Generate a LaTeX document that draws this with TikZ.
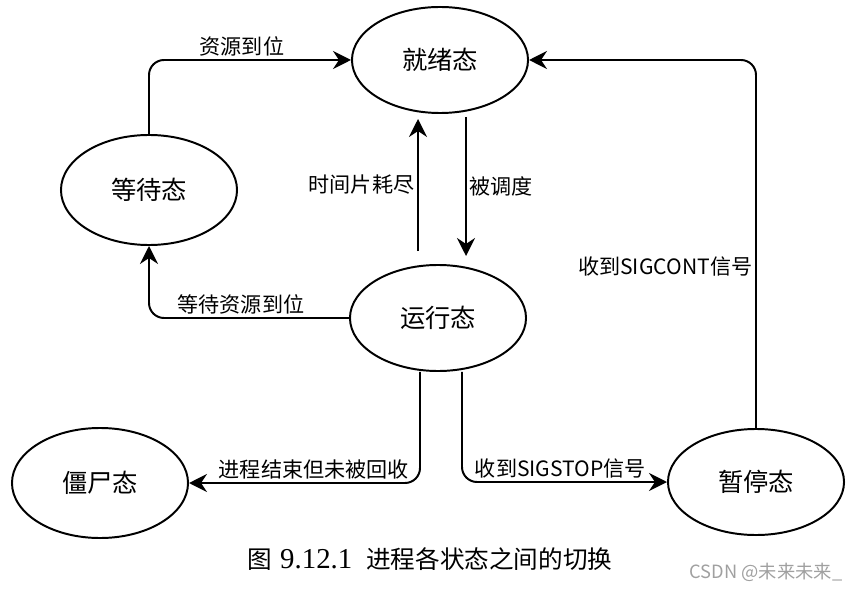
\documentclass[tikz,border=0pt]{standalone}
\usepackage{fontspec}
\setmainfont{Noto Sans CJK SC}
\newfontfamily\numfont{Liberation Serif}
\usetikzlibrary{arrows.meta,shapes.geometric}
\definecolor{wmgray}{RGB}{160,160,160}

\begin{document}
\begin{tikzpicture}[x=0.025cm,y=-0.025cm,line width=1.4pt,
	st/.style={draw,ellipse,minimum width=4.4cm,minimum height=2.65cm,font=\fontsize{18}{22}\selectfont},
	lbl/.style={font=\fontsize{15}{18}\selectfont,inner sep=2pt},
	vh/.style={to path={|- (\tikztotarget) \tikztonodes}},
	hv/.style={to path={-| (\tikztotarget) \tikztonodes}}]
	\useasboundingbox (0,0) rectangle (860,590);
	\node[st] (ready) at (440,60) {就绪态};
	\node[st,minimum height=2.75cm] (wait) at (149,190) {等待态};
	\node[st] (run) at (438,318) {运行态};
	\node[st,minimum height=2.75cm] (zombie) at (100,483) {僵尸态};
	\node[st] (stop) at (756,482) {暂停态};
	\path[-{Stealth[length=0.45cm,width=0.45cm,inset=0.15cm]},rounded corners=0.375cm]
	(wait.north) edge[vh] node[lbl,above,pos=0.73] {资源到位} (ready.west)
	(stop.north) edge[vh] node[lbl,left,pos=0.22] {收到SIGCONT信号} (ready.east)
	([shift={(-20,-13)}]run.north) edge node[lbl,left] {时间片耗尽} ([shift={(-22,5)}]ready.south)
	([shift={(26,3)}]ready.south) edge node[lbl,right] {被调度} ([shift={(28,-8)}]run.north)
	(run.west) edge[hv] node[lbl,above,pos=0.27] {等待资源到位} (wait.south)
	([shift={(-18,0)}]run.south) edge[vh] node[lbl,above,pos=0.73] {进程结束但未被回收} (zombie.east)
	([shift={(24,0)}]run.south) edge[vh] node[lbl,above,pos=0.74] {收到SIGSTOP信号} (stop.west);
	\node (cap) at (430,559) {\fontsize{17.5}{20}\selectfont 图\hspace{0.2cm}{\numfont\fontsize{20.5}{22}\selectfont 9.12.1}\hspace{0.35cm}进程各状态之间的切换};
	\node[text=wmgray,font=\fontsize{13}{15}\selectfont] (wm) at (766,572) {CSDN @未来未来\_};
\end{tikzpicture}
\end{document}
